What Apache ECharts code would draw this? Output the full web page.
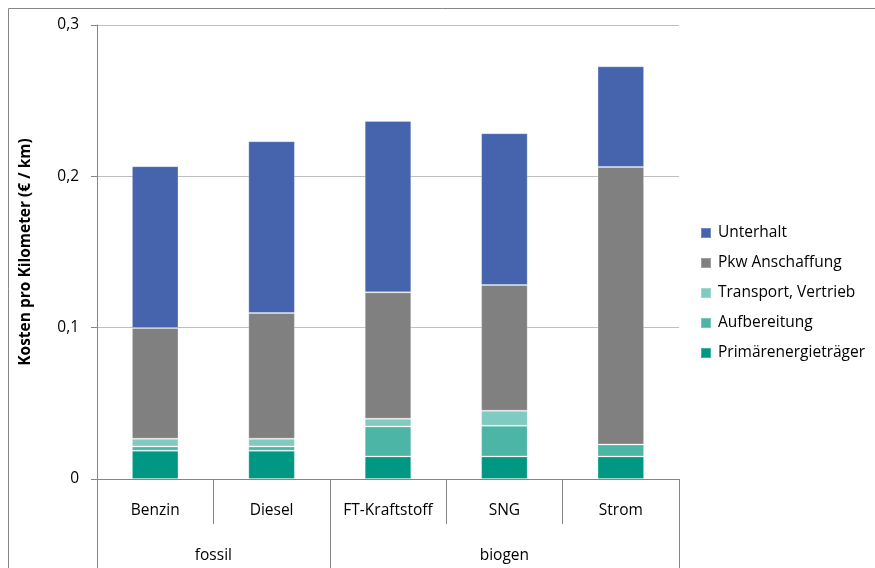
<!DOCTYPE html>
<html>
<head>
<meta charset="utf-8">
<script src="https://cdn.jsdelivr.net/npm/echarts@6/dist/echarts.min.js"></script>
<style>
  html, body { margin: 0; padding: 0; background: #ffffff; }
  #chart { width: 875px; height: 568px; }
</style>
</head>
<body>
<div id="chart"></div>
<script>
// Fahrzeuge und Gruppen
const categories = ['Benzin', 'Diesel', 'FT-Kraftstoff', 'SNG', 'Strom'];
const groups = ['fossil', 'biogen'];
const groupSizes = [2, 3];

// Kostenanteile in € pro km (von unten nach oben gestapelt)
const primaerenergietraeger = [0.0187, 0.0187, 0.0149, 0.0149, 0.0149];
const aufbereitung          = [0.0028, 0.0028, 0.0198, 0.0203, 0.0079];
const transportVertrieb     = [0.0051, 0.0051, 0.0051, 0.0099, 0.0000];
const pkwAnschaffung        = [0.0732, 0.0831, 0.0836, 0.0831, 0.1834];
const unterhalt             = [0.1069, 0.1135, 0.1132, 0.1003, 0.0665];

const yTicks = { min: 0, max: 0.3, interval: 0.1 };

const seriesDefs = [
  { name: 'Primärenergieträger', data: primaerenergietraeger, color: '#009882' },
  { name: 'Aufbereitung',        data: aufbereitung,          color: '#4db5a5' },
  { name: 'Transport, Vertrieb', data: transportVertrieb,     color: '#80cbc1' },
  { name: 'Pkw Anschaffung',     data: pkwAnschaffung,        color: '#808080' },
  { name: 'Unterhalt',           data: unterhalt,             color: '#4564ad' }
];

// Gruppengrenzen und -mitten auf einer Skala von 0 bis Anzahl Kategorien
const groupBounds = [0];
groupSizes.forEach(s => groupBounds.push(groupBounds[groupBounds.length - 1] + s));
const groupCenters = groupSizes.map((s, i) => groupBounds[i] + s / 2);

const FONT = '"Open Sans"';
const FS = 15.5;
const AXIS_GRAY = '#868686';

const chart = echarts.init(document.getElementById('chart'), null, { renderer: 'canvas' });

chart.setOption({
  animation: false,
  textStyle: { fontFamily: FONT },
  grid: { left: 97, right: 196, top: 25, bottom: 89, containLabel: false },
  legend: {
    orient: 'vertical',
    left: 695,
    top: 220,
    itemWidth: 10,
    itemHeight: 10,
    itemGap: 14,
    icon: 'rect',
    data: ['Unterhalt', 'Pkw Anschaffung', 'Transport, Vertrieb', 'Aufbereitung', 'Primärenergieträger'],
    textStyle: { fontFamily: FONT, fontSize: FS, color: '#000000', lineHeight: 16, padding: [0, 0, 0, 2] }
  },
  xAxis: [
    {
      type: 'category',
      data: categories,
      position: 'bottom',
      axisLine: { show: true, lineStyle: { color: AXIS_GRAY, width: 1 } },
      axisTick: { show: true, interval: 0, alignWithLabel: false, length: 45, lineStyle: { color: AXIS_GRAY } },
      axisLabel: { interval: 0, margin: 24, fontFamily: FONT, fontSize: FS, color: '#000000' },
      splitLine: { show: false }
    },
    {
      type: 'value',
      min: 0,
      max: categories.length,
      position: 'bottom',
      offset: 45,
      axisLine: { show: false },
      axisTick: { show: true, customValues: groupBounds, length: 44, inside: false, lineStyle: { color: AXIS_GRAY } },
      axisLabel: {
        show: true,
        customValues: groupCenters,
        margin: 24,
        fontFamily: FONT, fontSize: FS, color: '#000000',
        formatter: v => {
          const i = groupCenters.indexOf(v);
          return i >= 0 ? groups[i] : '';
        }
      },
      splitLine: { show: false }
    }
  ],
  yAxis: {
    type: 'value',
    min: yTicks.min,
    max: yTicks.max,
    interval: yTicks.interval,
    name: 'Kosten pro Kilometer (€ / km)',
    nameLocation: 'middle',
    nameGap: 63,
    nameTextStyle: { fontFamily: FONT, fontSize: 15.5, fontWeight: 'bold', color: '#000000' },
    axisLine: { show: true, lineStyle: { color: AXIS_GRAY } },
    axisTick: { show: true, length: 6, lineStyle: { color: AXIS_GRAY } },
    axisLabel: {
      margin: 18, fontFamily: FONT, fontSize: FS, color: '#000000',
      formatter: v => (Math.round(v * 10) / 10).toString().replace('.', ',')
    },
    splitLine: { show: true, lineStyle: { color: '#bfbfbf', width: 1 } }
  },
  graphic: [
    {
      type: 'rect',
      shape: { x: 8.5, y: 8.5, width: 1000, height: 700 },
      style: { fill: 'none', stroke: AXIS_GRAY, lineWidth: 1 },
      silent: true,
      z: -1
    }
  ],
  series: seriesDefs.map(s => ({
    name: s.name,
    type: 'bar',
    stack: 'kosten',
    xAxisIndex: 0,
    data: s.data,
    barCategoryGap: '60%',
    itemStyle: { color: s.color, borderColor: 'rgba(255,255,255,0.25)', borderWidth: 1 }
  }))
});
</script>
</body>
</html>
